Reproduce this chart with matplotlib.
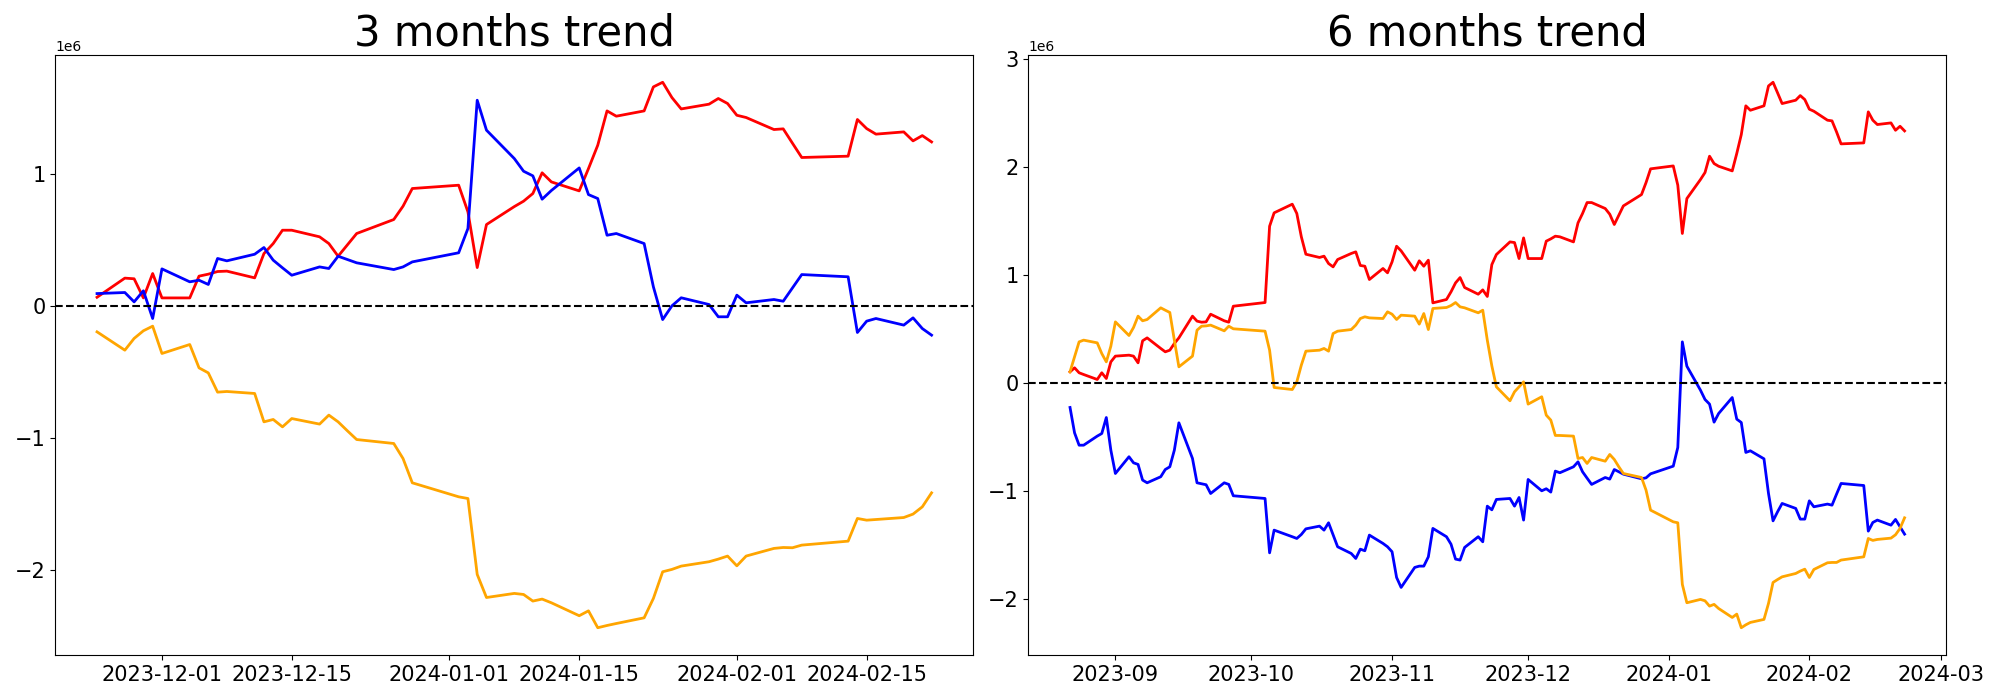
import numpy as np
import matplotlib
matplotlib.use('Agg')
import matplotlib.pyplot as plt
import matplotlib.dates as mdates
import pandas as pd

# trading days (KRX calendar)
holidays = ['2023-09-28', '2023-09-29', '2023-10-02', '2023-10-03', '2023-10-09',
            '2023-12-25', '2023-12-29', '2024-01-01', '2024-02-09', '2024-02-12']
dates_6m = pd.bdate_range('2023-08-22', '2024-02-22', freq='C', holidays=holidays)
dates_3m = dates_6m[dates_6m >= '2023-11-24']

# 3 months cumulative net buying (x1e6)
red_3m = [0.065, 0.21, 0.205, 0.06, 0.245, 0.06,
          0.06, 0.225, 0.24, 0.26, 0.263,
          0.212, 0.396, 0.472, 0.573, 0.573,
          0.523, 0.472, 0.376, 0.462, 0.548,
          0.654, 0.755, 0.889,
          0.914, 0.712, 0.290, 0.616,
          0.752, 0.793, 0.851, 1.008, 0.939,
          0.871, 1.040, 1.217, 1.477, 1.437,
          1.477, 1.659, 1.694, 1.578, 1.492,
          1.528, 1.571, 1.533, 1.444, 1.427,
          1.336, 1.341, 1.232, 1.124,
          1.134, 1.412, 1.343, 1.301,
          1.318, 1.250, 1.290, 1.242]
blue_3m = [0.093, 0.101, 0.030, 0.114, -0.096, 0.280,
           0.182, 0.194, 0.162, 0.359, 0.341,
           0.391, 0.442, 0.346, 0.288, 0.232,
           0.295, 0.283, 0.376, 0.351, 0.326,
           0.275, 0.295, 0.333,
           0.402, 0.586, 1.558, 1.331,
           1.116, 1.020, 0.985, 0.808, 0.874,
           1.045, 0.843, 0.813, 0.535, 0.548,
           0.472, 0.144, -0.104, 0.0, 0.061,
           0.010, -0.083, -0.083, 0.081, 0.023,
           0.048, 0.035, 0.136, 0.237,
           0.220, -0.202, -0.116, -0.096,
           -0.146, -0.091, -0.172, -0.222]
orange_3m = [-0.197, -0.336, -0.247, -0.189, -0.154, -0.361,
             -0.293, -0.470, -0.508, -0.654, -0.649,
             -0.664, -0.879, -0.861, -0.917, -0.854,
             -0.896, -0.828, -0.879, -0.947, -1.013,
             -1.043, -1.157, -1.341,
             -1.447, -1.460, -2.035, -2.210,
             -2.179, -2.187, -2.237, -2.222, -2.25,
             -2.348, -2.311, -2.439, -2.422, -2.407,
             -2.364, -2.217, -2.015, -1.997, -1.972,
             -1.939, -1.919, -1.896, -1.970, -1.896,
             -1.838, -1.831, -1.833, -1.813,
             -1.783, -1.611, -1.624, -1.619,
             -1.604, -1.578, -1.523, -1.417]

# 6 months cumulative net buying (x1e6)
red_6m = [0.105, 0.142, 0.096, 0.080,
          0.034, 0.096, 0.043, 0.197, 0.250,
          0.259, 0.250, 0.188, 0.392, 0.419,
          0.321, 0.290, 0.305, 0.367, 0.419,
          0.620, 0.574, 0.564, 0.567, 0.638,
          0.577, 0.564, 0.712,
          0.746, 1.452, 1.576,
          1.656, 1.570, 1.354, 1.193,
          1.163, 1.175, 1.107, 1.076, 1.144,
          1.200, 1.215, 1.089, 1.082, 0.959,
          1.061, 1.021, 1.122, 1.267, 1.224,
          1.045, 1.132, 1.082, 1.138, 0.743,
          0.774, 0.845, 0.928, 0.977, 0.885,
          0.823, 0.863, 0.802, 1.097, 1.19,
          1.307, 1.301, 1.153, 1.344, 1.153,
          1.153, 1.314, 1.335, 1.360, 1.354,
          1.307, 1.483, 1.570, 1.671, 1.671,
          1.616, 1.563, 1.468, 1.554, 1.640,
          1.745, 1.856, 1.983,
          2.010, 1.832, 1.385, 1.708,
          1.884, 1.949, 2.100, 2.032, 2.007,
          1.964, 2.125, 2.300, 2.566, 2.525,
          2.566, 2.750, 2.784, 2.686, 2.587,
          2.618, 2.661, 2.624, 2.535, 2.516,
          2.433, 2.427, 2.325, 2.214,
          2.223, 2.510, 2.433, 2.393,
          2.408, 2.340, 2.377, 2.334]
blue_6m = [-0.225, -0.460, -0.574, -0.574,
           -0.490, -0.466, -0.318, -0.620, -0.836,
           -0.681, -0.737, -0.752, -0.897, -0.922,
           -0.866, -0.799, -0.774, -0.620, -0.367,
           -0.697, -0.922, -0.931, -0.940, -1.021,
           -0.922, -0.937, -1.042,
           -1.067, -1.570, -1.360,
           -1.421, -1.437, -1.400, -1.348,
           -1.323, -1.360, -1.292, -1.403, -1.514,
           -1.576, -1.622, -1.536, -1.551, -1.406,
           -1.483, -1.514, -1.560, -1.798, -1.890,
           -1.705, -1.693, -1.693, -1.607, -1.344,
           -1.421, -1.490, -1.628, -1.637, -1.520,
           -1.421, -1.468, -1.138, -1.172, -1.076,
           -1.067, -1.138, -1.058, -1.267, -0.891,
           -0.996, -0.977, -1.008, -0.814, -0.829,
           -0.774, -0.728, -0.820, -0.879, -0.937,
           -0.873, -0.888, -0.799, -0.820, -0.842,
           -0.885, -0.876, -0.839,
           -0.768, -0.595, 0.382, 0.157,
           -0.065, -0.151, -0.194, -0.361, -0.281,
           -0.133, -0.333, -0.364, -0.641, -0.626,
           -0.700, -1.021, -1.274, -1.190, -1.113,
           -1.159, -1.258, -1.258, -1.089, -1.144,
           -1.119, -1.129, -1.027, -0.928,
           -0.947, -1.369, -1.289, -1.267,
           -1.314, -1.261, -1.329, -1.397]
orange_6m = [0.105, 0.244, 0.382, 0.398,
             0.373, 0.274, 0.197, 0.342, 0.567,
             0.441, 0.515, 0.620, 0.577, 0.589,
             0.697, 0.675, 0.654, 0.398, 0.151,
             0.250, 0.490, 0.527, 0.530, 0.537,
             0.484, 0.527, 0.503,
             0.481, 0.305, -0.040,
             -0.059, 0.012, 0.167, 0.296,
             0.305, 0.321, 0.296, 0.459, 0.481,
             0.496, 0.537, 0.598, 0.614, 0.604,
             0.598, 0.660, 0.638, 0.589, 0.629,
             0.620, 0.546, 0.644, 0.496, 0.691,
             0.700, 0.718, 0.746, 0.706, 0.697,
             0.651, 0.675, 0.398, 0.16, -0.034,
             -0.163, -0.080, -0.034, 0.012, -0.194,
             -0.126, -0.296, -0.342, -0.484, -0.484,
             -0.490, -0.697, -0.688, -0.743, -0.688,
             -0.722, -0.660, -0.706, -0.774, -0.836,
             -0.873, -0.990, -1.175,
             -1.283, -1.292, -1.862, -2.032,
             -2.001, -2.014, -2.063, -2.047, -2.085,
             -2.168, -2.137, -2.263, -2.236, -2.214,
             -2.186, -2.038, -1.844, -1.817, -1.792,
             -1.761, -1.739, -1.721, -1.798, -1.724,
             -1.662, -1.659, -1.659, -1.637,
             -1.607, -1.437, -1.455, -1.446,
             -1.434, -1.403, -1.344, -1.246]

fig = plt.figure(figsize=(20, 7), dpi=100)
ax1 = fig.add_axes([55.3 / 2000, 45 / 700, 918 / 2000, 600 / 700])
ax2 = fig.add_axes([1028.3 / 2000, 45 / 700, 918 / 2000, 600 / 700])

panels = [
    (ax1, dates_3m, red_3m, blue_3m, orange_3m, '3 months trend'),
    (ax2, dates_6m, red_6m, blue_6m, orange_6m, '6 months trend'),
]
for ax, dates, red, blue, orange, title in panels:
    ax.plot(dates, np.array(red) * 1e6, color='red', linewidth=2)
    ax.plot(dates, np.array(blue) * 1e6, color='blue', linewidth=2)
    ax.plot(dates, np.array(orange) * 1e6, color='orange', linewidth=2)
    ax.axhline(0, color='black', linestyle='--', linewidth=1.5)
    ax.set_title(title, fontsize=30)
    ax.tick_params(labelsize=15)

ax1.xaxis.set_major_locator(mdates.DayLocator(bymonthday=[1, 15]))
ax1.xaxis.set_major_formatter(mdates.DateFormatter('%Y-%m-%d'))
ax2.xaxis.set_major_locator(mdates.MonthLocator())
ax2.xaxis.set_major_formatter(mdates.DateFormatter('%Y-%m'))

fig.savefig('out.png')
